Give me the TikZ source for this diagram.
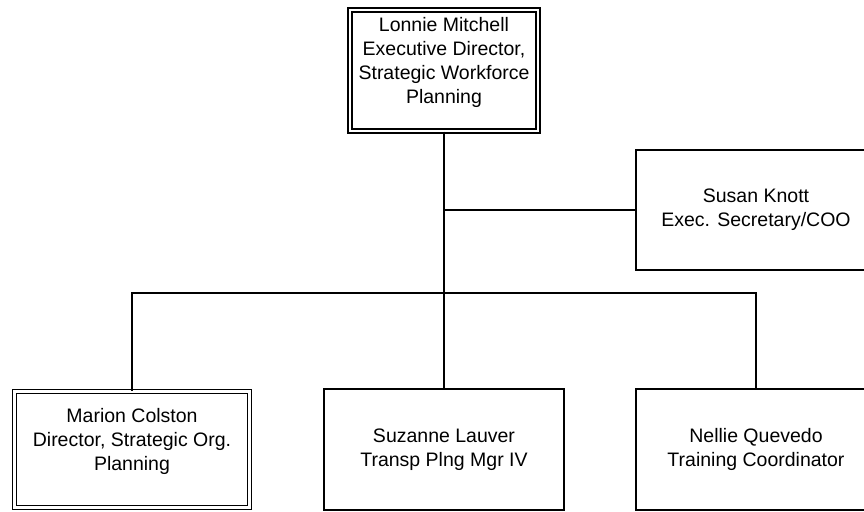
\documentclass[tikz,border=0pt]{standalone}
\usepackage{fontspec}
\setmainfont{Liberation Sans}
\begin{document}
\begin{tikzpicture}[x=1pt, y=-1pt,
    box/.style={draw=black, line width=1.8pt, align=center, inner sep=0pt,
        minimum width=240pt, minimum height=120pt, font=\fontsize{19.5}{24}\selectfont},
    headbox/.style={box, line width=1.4pt, double=white, double distance=2.6pt, text depth=20pt},
    link/.style={draw=black, line width=1.8pt}]
    \useasboundingbox (0,0) rectangle (864,511);
    % top of the chart
    \node[headbox, minimum width=188pt, minimum height=121pt] at (444,70.5) (lonnie) {Lonnie Mitchell\\Executive Director,\\Strategic Workforce\\Planning};
    \node[box] at (756,210) (susan) {Susan Knott\\Exec. Secretary/COO};
    % bottom row
    \node[headbox, minimum width=235pt, minimum height=116pt] at (132,449.5) (marion) {Marion Colston\\Director, Strategic Org.\\Planning};
    \node[box, minimum height=121pt] at (444,449.5) (suzanne) {Suzanne Lauver\\Transp Plng Mgr IV};
    \node[box, minimum height=121pt] at (756,449.5) (nellie) {Nellie Quevedo\\Training Coordinator};
    \coordinate (bus) at (444,293);
    \draw[link] (lonnie.south) -- (suzanne.north);
    \draw[link] (lonnie.south |- susan.west) -- (susan.west);
    \draw[link] (marion.north) |- (bus) -| (nellie.north);
\end{tikzpicture}
\end{document}
